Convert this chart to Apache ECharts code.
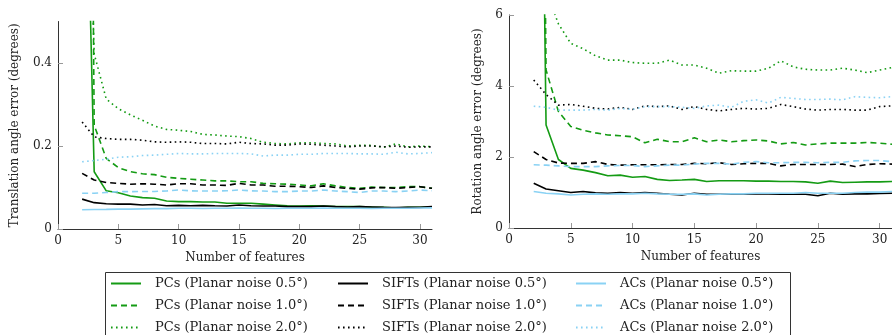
<!DOCTYPE html>
<html>
<head>
<meta charset="utf-8">
<script src="https://cdn.jsdelivr.net/npm/echarts@6/dist/echarts.min.js"></script>
<style>
  html, body { margin: 0; padding: 0; background: #fff; }
  #chart { width: 892px; height: 335px; }
</style>
</head>
<body>
<div id="chart"></div>
<script>
// number of features (x)
const features = [2, 3, 4, 5, 6, 7, 8, 9, 10, 11, 12, 13, 14, 15, 16, 17, 18, 19, 20, 21, 22, 23, 24, 25, 26, 27, 28, 29, 30, 31]
const xTicks = [0, 5, 10, 15, 20, 25, 30]
const transTicks = [0, 0.2, 0.4]
const rotTicks = [0, 2, 4, 6]

// translation angle error (degrees)
const pcT05 = [1.34, 0.138, 0.092, 0.0875, 0.0795, 0.0755, 0.074, 0.0675, 0.066, 0.066, 0.065, 0.065, 0.062, 0.062, 0.062, 0.06, 0.058, 0.056, 0.0555, 0.056, 0.0555, 0.054, 0.054, 0.054, 0.053, 0.0525, 0.0506, 0.052, 0.0525, 0.053]
const pcT10 = [4.0, 0.25, 0.17, 0.148, 0.138, 0.133, 0.131, 0.1245, 0.122, 0.12, 0.118, 0.116, 0.116, 0.114, 0.114, 0.11, 0.109, 0.108, 0.106, 0.104, 0.109, 0.104, 0.1, 0.098, 0.101, 0.1, 0.1, 0.102, 0.102, 0.098]
const pcT20 = [1.4, 0.422, 0.313, 0.29, 0.275, 0.262, 0.248, 0.24, 0.238, 0.235, 0.228, 0.2265, 0.224, 0.2225, 0.218, 0.209, 0.206, 0.205, 0.208, 0.208, 0.206, 0.205, 0.2, 0.2016, 0.2016, 0.197, 0.205, 0.198, 0.2, 0.198]
const siftT05 = [0.072, 0.0635, 0.061, 0.06, 0.06, 0.058, 0.059, 0.056, 0.057, 0.056, 0.057, 0.056, 0.0555, 0.058, 0.056, 0.0555, 0.0555, 0.054, 0.054, 0.054, 0.0555, 0.054, 0.053, 0.054, 0.053, 0.052, 0.0515, 0.052, 0.052, 0.054]
const siftT10 = [0.134, 0.118, 0.112, 0.11, 0.108, 0.109, 0.108, 0.106, 0.109, 0.109, 0.106, 0.106, 0.105, 0.11, 0.106, 0.106, 0.103, 0.103, 0.102, 0.1, 0.104, 0.1, 0.098, 0.096, 0.099, 0.1, 0.098, 0.1, 0.102, 0.098]
const siftT20 = [0.258, 0.222, 0.218, 0.216, 0.216, 0.214, 0.21, 0.209, 0.21, 0.209, 0.206, 0.206, 0.205, 0.209, 0.206, 0.205, 0.202, 0.202, 0.205, 0.204, 0.202, 0.2, 0.198, 0.2, 0.2, 0.198, 0.2, 0.197, 0.198, 0.198]
const acT05 = [0.0465, 0.047, 0.0474, 0.048, 0.048, 0.0485, 0.049, 0.049, 0.05, 0.05, 0.0495, 0.05, 0.05, 0.0505, 0.05, 0.05, 0.0495, 0.05, 0.05, 0.05, 0.0505, 0.05, 0.05, 0.05, 0.0495, 0.05, 0.05, 0.05, 0.0505, 0.051]
const acT10 = [0.086, 0.086, 0.088, 0.09, 0.09, 0.0905, 0.0905, 0.0916, 0.094, 0.092, 0.0915, 0.0915, 0.092, 0.094, 0.092, 0.0915, 0.09, 0.09, 0.0915, 0.0915, 0.094, 0.0915, 0.09, 0.088, 0.0915, 0.0915, 0.09, 0.0915, 0.094, 0.092]
const acT20 = [0.162, 0.165, 0.168, 0.173, 0.174, 0.177, 0.178, 0.18, 0.182, 0.181, 0.181, 0.182, 0.182, 0.182, 0.181, 0.176, 0.178, 0.178, 0.18, 0.18, 0.182, 0.182, 0.182, 0.181, 0.181, 0.18, 0.185, 0.181, 0.182, 0.184]

// rotation angle error (degrees)
const pcR05 = [30, 2.9, 1.93, 1.68, 1.63, 1.56, 1.47, 1.49, 1.43, 1.45, 1.37, 1.34, 1.35, 1.37, 1.31, 1.33, 1.33, 1.33, 1.32, 1.32, 1.31, 1.31, 1.3, 1.26, 1.32, 1.28, 1.29, 1.3, 1.3, 1.31]
const pcR10 = [40, 4.45, 3.28, 2.86, 2.75, 2.68, 2.62, 2.6, 2.57, 2.4, 2.5, 2.43, 2.43, 2.54, 2.43, 2.48, 2.43, 2.46, 2.48, 2.45, 2.37, 2.41, 2.34, 2.37, 2.39, 2.39, 2.39, 2.41, 2.39, 2.36]
const pcR20 = [9.5, 6.7, 5.75, 5.2, 5.05, 4.85, 4.73, 4.73, 4.66, 4.64, 4.64, 4.73, 4.59, 4.59, 4.5, 4.36, 4.43, 4.42, 4.42, 4.5, 4.71, 4.54, 4.47, 4.45, 4.45, 4.5, 4.45, 4.375, 4.45, 4.52]
const siftR05 = [1.26, 1.1, 1.05, 1.0, 1.03, 0.99, 0.98, 1.0, 0.98, 1.0, 0.98, 0.95, 0.93, 0.98, 0.95, 0.95, 0.95, 0.95, 0.96, 0.96, 0.95, 0.95, 0.95, 0.91, 0.98, 0.95, 0.96, 0.96, 0.97, 0.98]
const siftR10 = [2.15, 1.93, 1.83, 1.82, 1.82, 1.87, 1.79, 1.77, 1.78, 1.78, 1.78, 1.79, 1.79, 1.82, 1.81, 1.84, 1.79, 1.81, 1.82, 1.82, 1.75, 1.79, 1.79, 1.79, 1.79, 1.8, 1.73, 1.79, 1.81, 1.8]
const siftR20 = [4.17, 3.76, 3.46, 3.48, 3.43, 3.37, 3.35, 3.4, 3.34, 3.44, 3.42, 3.44, 3.34, 3.42, 3.34, 3.3, 3.34, 3.37, 3.35, 3.37, 3.48, 3.42, 3.35, 3.32, 3.34, 3.34, 3.32, 3.32, 3.42, 3.44]
const acR05 = [1.03, 0.98, 0.96, 0.93, 0.95, 0.96, 0.95, 0.96, 0.96, 0.98, 0.96, 0.95, 0.95, 0.96, 0.93, 0.95, 0.96, 0.96, 0.98, 0.98, 0.98, 0.98, 1.0, 0.98, 0.98, 0.98, 1.0, 1.01, 1.01, 1.03]
const acR10 = [1.78, 1.77, 1.75, 1.73, 1.73, 1.73, 1.75, 1.76, 1.76, 1.73, 1.75, 1.77, 1.77, 1.8, 1.82, 1.82, 1.8, 1.85, 1.87, 1.84, 1.84, 1.85, 1.85, 1.84, 1.85, 1.85, 1.89, 1.9, 1.9, 1.87]
const acR20 = [3.43, 3.4, 3.32, 3.32, 3.32, 3.34, 3.32, 3.37, 3.34, 3.42, 3.42, 3.42, 3.4, 3.37, 3.44, 3.46, 3.4, 3.57, 3.61, 3.52, 3.68, 3.65, 3.62, 3.62, 3.63, 3.61, 3.7, 3.68, 3.67, 3.7]

const GREEN = '#149b14'
const BLACK = '#000000'
const BLUE = '#8ad2f4'
const FONT = 'DejaVu Serif'

const dash = { solid: 'solid', dashed: [6, 4], dotted: [1.6, 3.4] }

const groups = [
  { label: 'PCs', color: GREEN, t: [pcT05, pcT10, pcT20], r: [pcR05, pcR10, pcR20] },
  { label: 'SIFTs', color: BLACK, t: [siftT05, siftT10, siftT20], r: [siftR05, siftR10, siftR20] },
  { label: 'ACs', color: BLUE, t: [acT05, acT10, acT20], r: [acR05, acR10, acR20] },
]
const noises = ['0.5', '1.0', '2.0']
const styles = ['solid', 'dashed', 'dotted']

const series = []
const legendNames = []
groups.forEach((g) => {
  const names = []
  noises.forEach((n, i) => {
    const name = `${g.label} (Planar noise ${n}°)`
    names.push(name)
    const common = {
      name,
      type: 'line',
      symbol: 'none',
      clip: true,
      silent: true,
      lineStyle: { width: 1.6, color: g.color, type: dash[styles[i]] },
      itemStyle: { color: g.color },
    }
    series.push({ ...common, xAxisIndex: 0, yAxisIndex: 0, data: features.map((x, k) => [x, g.t[i][k]]) })
    series.push({ ...common, xAxisIndex: 1, yAxisIndex: 1, data: features.map((x, k) => [x, g.r[i][k]]) })
  })
  legendNames.push(names)
})

const axisText = { color: '#222', fontFamily: FONT, fontSize: 12 }

function xAxis(gridIndex) {
  return {
    gridIndex,
    type: 'value',
    min: 0,
    max: 31,
    name: 'Number of features',
    nameLocation: 'middle',
    nameGap: 22,
    nameTextStyle: axisText,
    axisLine: { lineStyle: { color: '#333', width: 1 } },
    axisTick: { inside: true, length: 5, lineStyle: { color: '#999' }, customValues: xTicks },
    axisLabel: { ...axisText, margin: 6, customValues: xTicks },
    splitLine: { show: false },
  }
}

function yAxis(gridIndex, name, max, ticks, gap) {
  return {
    gridIndex,
    type: 'value',
    min: 0,
    max,
    name,
    nameLocation: 'middle',
    nameGap: gap,
    nameTextStyle: axisText,
    axisLine: { show: true, lineStyle: { color: '#333', width: 1 } },
    axisTick: { show: true, inside: true, length: 5, lineStyle: { color: '#999' }, customValues: ticks },
    axisLabel: { ...axisText, margin: 6, customValues: ticks },
    splitLine: { show: false },
  }
}

const legendCols = [110, 337, 575]
const legends = legendNames.map((names, i) => ({
  orient: 'vertical',
  left: legendCols[i],
  top: 277,
  height: 90,
  padding: 0,
  itemWidth: 30,
  itemHeight: 14,
  itemGap: 9,
  selectedMode: false,
  data: names,
  itemStyle: { opacity: 0 },
  textStyle: { color: '#222', fontFamily: FONT, fontSize: 13, padding: [0, 0, 0, 9] },
}))

const chart = echarts.init(document.getElementById('chart'))
chart.setOption({
  animation: false,
  backgroundColor: '#fff',
  grid: [
    { left: 58, top: 21.5, width: 374, height: 207.5 },
    { left: 509, top: 15, width: 385.6, height: 213 },
  ],
  xAxis: [xAxis(0), xAxis(1)],
  yAxis: [
    yAxis(0, 'Translation angle error (degrees)', 0.5, transTicks, 37),
    yAxis(1, 'Rotation angle error (degrees)', 6, rotTicks, 25),
  ],
  legend: legends,
  graphic: [
    {
      type: 'rect',
      shape: { x: 105.5, y: 272.5, width: 685, height: 80 },
      style: { fill: null, stroke: '#333', lineWidth: 1 },
      silent: true,
    },
  ],
  series,
})
</script>
</body>
</html>
